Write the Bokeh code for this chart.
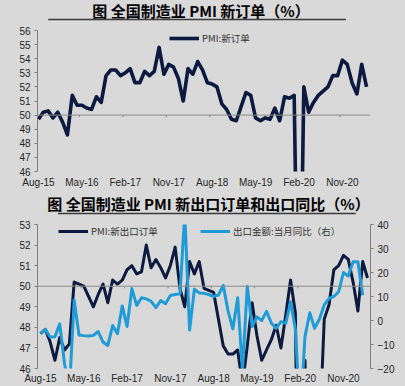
import pandas as pd
from bokeh.plotting import figure
from bokeh.models import Range1d, LinearAxis, FixedTicker, Span, Legend, LegendItem
from bokeh.layouts import column
from bokeh.embed import file_html
from bokeh.resources import INLINE
from bokeh.core.properties import value

# ---------------- data ----------------
months = [p.strftime("%b-%y") for p in pd.period_range("2015-08", "2021-04", freq="M")]
tick_labels = ["Aug-15", "May-16", "Feb-17", "Nov-17", "Aug-18", "May-19", "Feb-20", "Nov-20"]

# PMI: new orders (Aug-15 .. Apr-21)
new_orders = [
    49.7, 50.2, 50.3, 49.8, 50.2,
    49.5, 48.6, 51.4, 50.7, 50.7, 50.5, 50.4, 51.3, 50.9, 52.8, 53.2, 53.2,
    52.8, 53.0, 53.3, 52.3, 52.3, 53.1, 52.8, 53.1, 54.8, 52.9, 53.6, 53.4,
    52.6, 51.0, 53.3, 52.9, 53.8, 53.2, 52.3, 52.2, 52.0, 50.8, 50.4, 49.7,
    49.6, 50.6, 51.6, 51.4, 49.8, 49.6, 49.8, 49.7, 50.5, 49.6, 51.3, 51.2,
    51.4, 29.3, 52.0, 50.2, 50.9, 51.4, 51.7, 52.0, 52.8, 52.8, 53.9, 53.6,
    52.3, 51.5, 53.6, 52.0,
]

# PMI: new export orders (Aug-15 .. Apr-21), left axis
export_orders = [
    47.7, 47.9, 47.3, 46.4, 47.5,
    46.9, 47.2, 50.2, 50.1, 50.0, 49.5, 49.0, 49.6, 50.1, 49.2, 50.3, 50.1,
    50.3, 50.8, 51.0, 50.6, 50.7, 52.0, 50.9, 51.3, 50.9, 50.4, 51.0, 51.9,
    49.9, 49.0, 51.2, 50.6, 51.2, 49.9, 49.8, 49.7, 48.4, 47.1, 46.7, 46.7,
    46.9, 45.2, 47.1, 49.2, 47.6, 46.4, 46.9, 47.4, 48.1, 47.0, 48.6, 50.3,
    48.7, 28.7, 46.4, 33.5, 35.3, 42.6, 48.4, 49.1, 50.8, 51.0, 51.5, 51.3,
    50.2, 48.8, 51.2, 50.4,
]

# Exports: monthly YoY % (Aug-15 .. Mar-21), right axis
export_yoy = [
    -5.5, -3.7, -6.9, -6.8, -1.4,
    -18.0, -30.0, 8.5, -6.0, -6.3, -6.5, -6.2, -4.6, -9.0, -10.4, -2.1, -5.5,
    6.0, -2.5, 13.3, 6.3, 9.5, 9.0, 8.0, 5.4, 8.3, 7.0, 10.4, 10.8,
    11.1, 44.5, -4.0, 13.0, 11.5, 11.3, 10.8, 10.0, 10.6, 14.6, 4.0, -3.5,
    9.5, -20.8, 14.2, -2.5, 1.5, 0.0, 3.8, -1.0, -3.3, -0.5, -1.2, 7.8,
    -3.5, -40.6, -6.6, 3.2, -3.3, 0.6, 6.5, 9.2, 10.0, 12.0, 20.0, 18.5,
    24.5, 24.5, 10.5,
]

title_top = "图  全国制造业 PMI 新订单（%）"
title_bottom = "图  全国制造业 PMI 新出口订单和出口同比（%）"
legend_top = "PMI:新订单"
legend_b1 = "PMI:新出口订单"
legend_b2 = "出口金额:当月同比（右）"

# ---------------- style ----------------
W = 405
BG = "#d9d9d9"
NAVY = "#0d1a40"
BLUE = "#1f9bd7"
AXIS = "#7f7f7f"
LBL = "#262626"
TICK_FONT = "Liberation Sans"
CJK = "Noto Sans CJK SC"

x_all = list(range(len(months)))
tick_pos = [months.index(t) for t in tick_labels]


def title_fig(text, h, text_x, text_from_top, rule_x0, rule_x1, rule_from_top):
    f = figure(width=W, height=h, x_range=Range1d(0, W), y_range=Range1d(0, h),
               toolbar_location=None, output_backend="svg", min_border=0,
               x_axis_location=None, y_axis_location=None)
    f.grid.visible = False
    f.outline_line_color = None
    f.background_fill_color = BG
    f.border_fill_color = BG
    f.text(x=[text_x], y=[h - text_from_top], text=[text], text_align="center",
           text_baseline="middle", text_font=value(CJK), text_font_style="bold",
           text_font_size="15px", text_color="#000000")
    f.segment(x0=[rule_x0], y0=[h - rule_from_top], x1=[rule_x1], y1=[h - rule_from_top],
              line_color="#3a3a3a", line_width=1.5)
    return f


def style_axes(p):
    p.grid.visible = False
    p.outline_line_color = None
    p.background_fill_color = BG
    p.border_fill_color = BG
    xa = p.xaxis[0]
    xa.ticker = FixedTicker(ticks=tick_pos)
    xa.major_label_overrides = {i: months[i] for i in tick_pos}
    xa.axis_line_color = None
    xa.major_tick_line_color = None
    xa.minor_tick_line_color = None
    xa.major_tick_out = 0
    xa.major_tick_in = 0
    xa.major_label_text_font = TICK_FONT
    xa.major_label_text_font_size = "10px"
    xa.major_label_text_color = LBL
    for ax in p.yaxis:
        ax.axis_line_color = AXIS
        ax.major_tick_line_color = AXIS
        ax.minor_tick_line_color = None
        ax.major_tick_out = 3
        ax.major_tick_in = 0
        ax.major_label_standoff = 4
        ax.major_label_text_font = TICK_FONT
        ax.major_label_text_font_size = "10px"
        ax.major_label_text_color = LBL


# ---------------- top chart ----------------
t1 = title_fig(title_top, 22, 201, 10, 13, 375, 19)

p1 = figure(width=W, height=170, x_range=Range1d(-0.205, 68.82), y_range=Range1d(46, 56),
            toolbar_location=None, output_backend="svg",
            min_border_left=35, min_border_right=33, min_border_top=8, min_border_bottom=21)
style_axes(p1)
p1.yaxis.ticker = FixedTicker(ticks=list(range(46, 57)))
p1.xaxis.major_label_standoff = 5
p1.add_layout(Span(location=50, dimension="width", line_color="#8c8c8c", line_width=1))
p1.segment(x0=[t - 0.5 for t in tick_pos[1:]], y0=50, x1=[t - 0.5 for t in tick_pos[1:]], y1=49.86,
           line_color="#8c8c8c", line_width=1)
r1 = p1.line(x_all, new_orders, line_color=NAVY, line_width=3.6, line_join="round")
leg1 = Legend(items=[LegendItem(label=legend_top, renderers=[r1])], location=(132, 126),
              glyph_width=30, glyph_height=12, label_height=12, label_standoff=3,
              padding=0, margin=0, spacing=0, border_line_color=None, background_fill_alpha=0,
              label_text_font=CJK, label_text_font_size="9.5px", label_text_color="#333333")
p1.add_layout(leg1)

# ---------------- bottom chart ----------------
t2 = title_fig(title_bottom, 23, 210, 11, 25, 387, 21)

p2 = figure(width=W, height=171, x_range=Range1d(-0.624, 68.62), y_range=Range1d(46, 53),
            toolbar_location=None, output_backend="svg",
            min_border_left=37, min_border_right=35, min_border_top=9, min_border_bottom=18)
p2.extra_y_ranges = {"right": Range1d(-20, 40)}
p2.add_layout(LinearAxis(y_range_name="right"), "right")
style_axes(p2)
p2.yaxis[0].ticker = FixedTicker(ticks=list(range(46, 54)))
p2.yaxis[1].ticker = FixedTicker(ticks=list(range(-20, 41, 10)))
p2.xaxis.major_label_standoff = 4
p2.add_layout(Span(location=50, dimension="width", line_color="#8c8c8c", line_width=1))
p2.segment(x0=[t - 0.5 for t in tick_pos[1:]], y0=50, x1=[t - 0.5 for t in tick_pos[1:]], y1=49.9,
           line_color="#8c8c8c", line_width=1)
r2 = p2.line(x_all, export_orders, line_color=NAVY, line_width=3.0, line_join="round")
r3 = p2.line(x_all[:len(export_yoy)], export_yoy, y_range_name="right",
             line_color=BLUE, line_width=3.0, line_join="round")
common = dict(glyph_width=30, glyph_height=12, label_height=12, label_standoff=3,
              padding=0, margin=0, spacing=0, border_line_color=None, background_fill_alpha=0,
              label_text_font=CJK, label_text_font_size="9.5px", label_text_color="#333333")
p2.add_layout(Legend(items=[LegendItem(label=legend_b1, renderers=[r2])], location=(21, 130), **common))
p2.add_layout(Legend(items=[LegendItem(label=legend_b2, renderers=[r3])], location=(163, 130), **common))

layout = column(t1, p1, t2, p2, spacing=0)
layout.styles = {"background-color": BG}

open("out.html", "w").write(file_html(layout, INLINE))
